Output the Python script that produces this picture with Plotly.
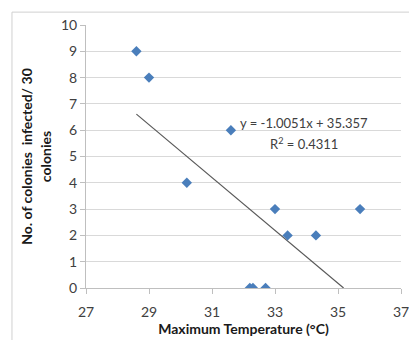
import plotly.graph_objects as go

# Data
max_temp = [28.6, 29.0, 31.6, 30.2, 33.0, 33.4, 34.3, 35.7, 32.2, 32.3, 32.7]
colonies_infected = [9, 8, 6, 4, 3, 2, 2, 3, 0, 0, 0]
trend_slope = -1.0051
trend_intercept = 35.357
r_squared = 0.4311
x_ticks = [27, 29, 31, 33, 35, 37]
y_ticks = [0, 1, 2, 3, 4, 5, 6, 7, 8, 9, 10]

FONT = "Lato, 'Open Sans', sans-serif"
TXT = "#404040"

# trendline from min x to where it meets the y-axis minimum (0)
x_start = min(max_temp)
x_end = -trend_intercept / trend_slope
trend_x = [x_start, x_end]
trend_y = [trend_slope * v + trend_intercept for v in trend_x]

fig = go.Figure()
fig.add_trace(go.Scatter(
    x=trend_x, y=trend_y, mode="lines",
    line=dict(color="#595959", width=1.2),
    hoverinfo="skip", showlegend=False,
))
fig.add_trace(go.Scatter(
    x=max_temp, y=colonies_infected, mode="markers",
    marker=dict(symbol="diamond", size=8, color="#4A7EBB"),
    showlegend=False,
))

fig.add_annotation(
    x=33.92, y=6.27, xref="x", yref="y",
    text=f"y = {trend_slope}x + {trend_intercept}",
    showarrow=False, xanchor="center", yanchor="middle",
    font=dict(family=FONT, size=13, color=TXT),
)
fig.add_annotation(
    x=33.92, y=5.51, xref="x", yref="y",
    text=f"R<sup>2</sup> = {r_squared}",
    showarrow=False, xanchor="center", yanchor="middle",
    font=dict(family=FONT, size=13, color=TXT),
)

# chart area border (left & top edges visible)
border = dict(color="#D0D0D0", width=1)
fig.add_shape(type="line", xref="paper", yref="paper",
              x0=-0.235, x1=-0.235, y0=-0.3, y1=1.049, line=border, layer="below")
fig.add_shape(type="line", xref="paper", yref="paper",
              x0=-0.235, x1=1.05, y0=1.049, y1=1.049, line=border, layer="below")

# page body has an 8px margin, so the figure is 8px smaller and offset
fig.update_layout(
    width=409, height=332,
    margin=dict(l=78, r=16, t=17, b=52, autoexpand=False),
    paper_bgcolor="white", plot_bgcolor="white",
    font=dict(family=FONT, color=TXT),
    xaxis=dict(
        range=[27, 37], tickvals=x_ticks, ticktext=[str(t) for t in x_ticks],
        showgrid=False, zeroline=False, automargin=False,
        showline=True, linecolor="#BFBFBF", linewidth=1,
        ticks="outside", ticklen=5, tickcolor="#BFBFBF",
        ticklabelstandoff=6, ticklabeloverflow="allow",
        tickfont=dict(family=FONT, size=14, color=TXT),
        title=dict(text="<b>Maximum Temperature (°C)</b>",
                   font=dict(family=FONT, size=14, color="#1a1a1a"), standoff=4),
    ),
    yaxis=dict(
        range=[0, 10], tickvals=y_ticks, automargin=False,
        showgrid=True, gridcolor="#D9D9D9", gridwidth=1,
        zeroline=False,
        showline=True, linecolor="#BFBFBF", linewidth=1,
        ticks="outside", ticklen=5, tickcolor="#BFBFBF",
        tickfont=dict(family=FONT, size=14, color=TXT),
        title=dict(text="<b>No. of colonies  infected/ 30<br>colonies</b>",
                   font=dict(family=FONT, size=14, color="#1a1a1a"), standoff=6),
    ),
)

fig.write_html("out.html")
